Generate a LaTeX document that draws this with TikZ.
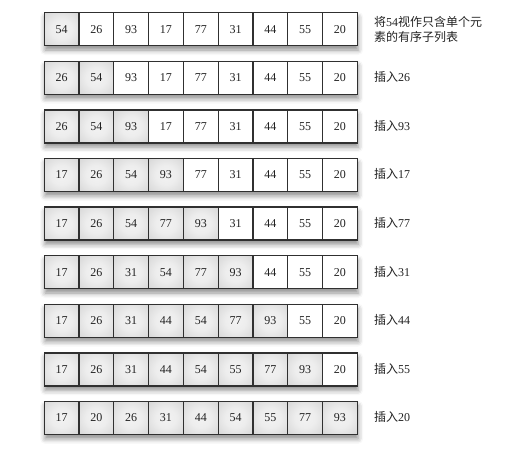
\documentclass[tikz,border=0pt]{standalone}
\usepackage{fontspec}
\setmainfont{Liberation Serif}
\newfontfamily\cjk{Noto Sans CJK SC}
\usetikzlibrary{shadows.blur}
\definecolor{edge}{HTML}{303030}
\definecolor{ink}{HTML}{222222}
\pgfdeclareradialshading{cellshade}{\pgfpoint{0bp}{0bp}}{%
  color(0bp)=(white!95!black); color(15bp)=(white!93!black);
  color(50bp)=(white!78!black); color(72bp)=(white!72!black)}
\tikzset{
  cell/.style={draw=edge, line width=1.3pt, minimum width=34.8pt, minimum height=33pt,
    inner sep=0pt, anchor=north west, text=ink, font=\fontsize{12}{14}\selectfont},
  graycell/.style={cell, shading=cellshade},
  whitecell/.style={cell, fill=white},
  rowshadow/.style={fill=white, blur shadow={shadow xshift=1.5pt, shadow yshift=-5pt,
    shadow blur radius=5pt, shadow opacity=45}},
  lab/.style={anchor=west, align=left, inner sep=0pt, text=ink, font=\fontsize{12}{15}\selectfont}
}
\begin{document}
\begin{tikzpicture}[x=1pt,y=-1pt]
\useasboundingbox (0,0) rectangle (513,459);
\foreach \vals [count=\i] in {
  {54,26,93,17,77,31,44,55,20},
  {26,54,93,17,77,31,44,55,20},
  {26,54,93,17,77,31,44,55,20},
  {17,26,54,93,77,31,44,55,20},
  {17,26,54,77,93,31,44,55,20},
  {17,26,31,54,77,93,44,55,20},
  {17,26,31,44,54,77,93,55,20},
  {17,26,31,44,54,55,77,93,20},
  {17,20,26,31,44,54,55,77,93}} {
  \pgfmathsetmacro\top{12+48.6*(\i-1)}
  \path[rowshadow] (43.5,\top) rectangle ++(313.2,33);
  \foreach \v [count=\j] in \vals {
    \pgfmathsetmacro\lx{43.5+34.8*(\j-1)}
    \ifnum\j>\i\relax\def\sty{whitecell}\else\def\sty{graycell}\fi
    \node[\sty] (r\i c\j) at (\lx,\top) {\v};
  }
}
\node[lab] (l1) at (374,29.5) {{\cjk 将}54{\cjk 视作只含单个元}\\{\cjk 素的有序子列表}};
\foreach \n [count=\k from 2] in {26,93,17,77,31,44,55,20} {
  \pgfmathsetmacro\cy{28.5+48.6*(\k-1)}
  \node[lab] (l\k) at (374,\cy) {{\cjk 插入}\n};
}
\end{tikzpicture}
\end{document}
